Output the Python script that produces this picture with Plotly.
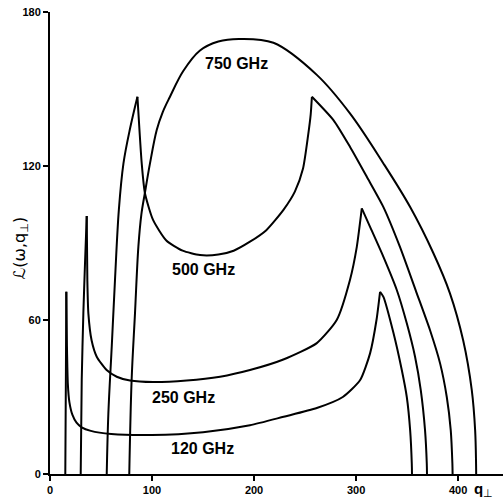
import plotly.graph_objects as go

# ---- data (q_perp, L(omega, q_perp)) ----
# 120 GHz
q120_rise = [15.0, 15.6, 16.0]
v120_rise = [0, 40, 71]
q120_mid = [16.0, 16.6, 17.5, 19, 22, 26, 31, 40, 60, 100, 150, 196, 229, 261.5, 287, 304, 313.7, 320, 323.5]
v120_mid = [71, 50, 35, 28, 23, 20, 18.2, 16.8, 15.6, 15.2, 16.3, 19, 22.3, 25.7, 30, 36.6, 47, 60, 71]
q120_fall = [323.5, 326.8, 336.6, 344.8, 349.7, 353, 354.6, 354.8]
v120_fall = [71, 69, 55, 40.5, 30, 17, 4, 0]

# 250 GHz
q250_rise = [30.1, 31.1, 32.7, 34.3, 36.0]
v250_rise = [0, 36.6, 62.7, 82, 100.5]
q250_mid = [36.0, 36.6, 37.6, 40.8, 45.8, 55.5, 65.4, 78.4, 101, 134, 166.7, 196, 228.7, 261.5, 281, 294, 300.7, 305, 305.6]
v250_mid = [100.5, 75.6, 62.6, 52, 45.7, 40.5, 37.9, 36.4, 35.8, 36.4, 37.9, 40.5, 44.6, 51, 60, 75.6, 88.5, 101.5, 103.5]
q250_fall = [305.6, 313.7, 326.8, 339.9, 349.7, 357.8, 363.4, 367.6, 369.3, 369.5]
v250_fall = [103.5, 96.3, 84.6, 71.7, 58.7, 45.7, 32.7, 17, 4, 0]

# 500 GHz
q500_rise = [55.6, 57.2, 60.5, 63.7, 67.5, 72, 78.4, 85.7]
v500_rise = [0, 23.6, 49.6, 75.6, 103, 121, 134.5, 147]
q500_mid = [85.7, 89.9, 93, 101, 114, 130, 147, 165, 180, 196, 212, 229, 240, 248, 253, 255.5, 256.7]
v500_mid = [147, 121, 109.5, 99, 91, 87, 85.3, 85.5, 87, 90.5, 95, 103, 110, 119, 132, 140, 147]
q500_fall = [256.7, 277.8, 294, 310.5, 326.8, 343, 359.5, 372.5, 382.4, 388.9, 392.8, 394.4, 394.6]
v500_fall = [147, 137.9, 127.5, 115.8, 104, 88.5, 70.4, 56, 43, 30, 17, 4, 0]

# 750 GHz
q750 = [77.7, 80, 83.3, 86.6, 89.5, 93, 98, 104.6, 110.5, 117.6, 130.6, 147, 165, 185, 219, 261.5,
        294, 326.8, 353, 375.8, 392, 405, 413.4, 416.7, 417.6, 417.7]
v750 = [0, 36.6, 62.6, 88.5, 101, 109.5, 121, 134, 141, 147, 157, 165, 168.5, 169.5, 168, 155.5,
        140.5, 121, 104, 86, 70.4, 52, 32.7, 17, 4, 0]

x_ticks = [0, 100, 200, 300, 400]
y_ticks = [0, 60, 120, 180]

labels = ["750 GHz", "500 GHz", "250 GHz", "120 GHz"]
label_q = [183, 150, 130.4, 149.5]
label_v = [160, 79.5, 30, 10]

segments = [
    (q120_rise, v120_rise, 0.6), (q120_mid, v120_mid, 0.6), (q120_fall, v120_fall, 0.6),
    (q250_rise, v250_rise, 0.6), (q250_mid, v250_mid, 0.6), (q250_fall, v250_fall, 0.6),
    (q500_rise, v500_rise, 1.0), (q500_mid, v500_mid, 0.6), (q500_fall, v500_fall, 0.6),
    (q750, v750, 1.0),
]

fig = go.Figure()
for qs, vs, sm in segments:
    fig.add_trace(go.Scatter(
        x=qs, y=vs, mode="lines",
        line=dict(color="black", width=2, shape="spline", smoothing=sm),
        showlegend=False, hoverinfo="skip",
    ))

for t, qx, vy in zip(labels, label_q, label_v):
    fig.add_annotation(x=qx, y=vy, text="<b>" + t + "</b>", showarrow=False,
                       font=dict(family="Liberation Sans, Arial", size=16, color="black"))

fig.add_annotation(xref="paper", yref="paper", x=-0.066, y=0.489,
                   xanchor="center", yanchor="middle",
                   text="ℒ(ω,q<sub>⊥</sub>)", textangle=-90, showarrow=False,
                   font=dict(family="DejaVu Sans", size=16, color="black"))
fig.add_annotation(xref="paper", yref="paper", x=0.957, y=-0.034,
                   xanchor="center", yanchor="middle",
                   text="<b>q</b><sub>⊥</sub>", showarrow=False,
                   font=dict(family="Liberation Sans, Arial", size=15, color="black"))

fig.update_xaxes(range=[0, 444], tickvals=x_ticks, ticks="outside", ticklen=5,
                 tickwidth=1.5, tickcolor="black", showline=True, linecolor="black",
                 linewidth=2, showgrid=False, zeroline=False,
                 tickfont=dict(family="Liberation Sans, Arial", size=11, color="black", weight="bold"))
fig.update_yaxes(range=[0, 180], tickvals=y_ticks, ticks="outside", ticklen=5,
                 tickwidth=1.5, tickcolor="black", showline=True, linecolor="black",
                 linewidth=2, showgrid=False, zeroline=False,
                 tickfont=dict(family="Liberation Sans, Arial", size=11, color="black", weight="bold"))

fig.update_layout(width=503, height=501, margin=dict(l=50, r=0, t=12, b=27),
                  plot_bgcolor="white", paper_bgcolor="white")

fig.write_html("out.html", config={"displayModeBar": False},
               post_script="document.body.style.margin='0';")
